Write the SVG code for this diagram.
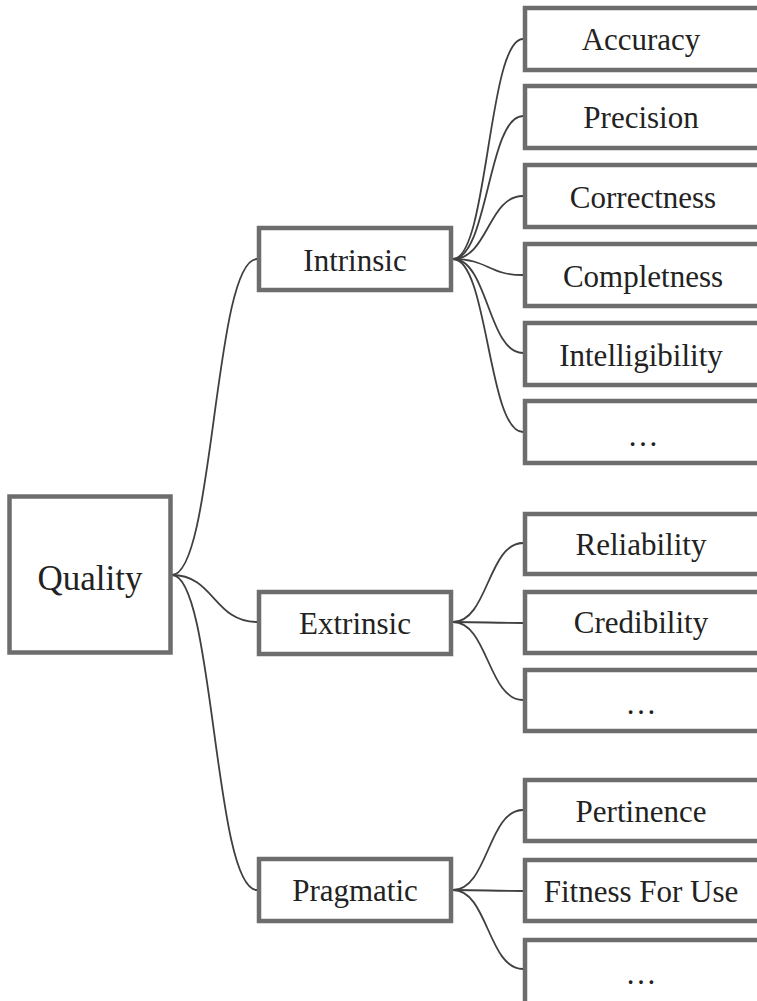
<svg xmlns="http://www.w3.org/2000/svg" width="757" height="1001" viewBox="0 0 757 1001">
<style>
.box{fill:#fff;stroke:#6d6d6d;stroke-width:4.5;}
.t{font-family:"Liberation Serif","Times New Roman",serif;font-size:31px;fill:#222;text-anchor:middle;}
.big{font-size:35px;}
.c{fill:none;stroke:#404040;stroke-width:1.8;}
</style>
<rect width="757" height="1001" fill="#fff"/>
<g id="connectors">
<path class="c" d="M172,575 C214,575 214,259 257,259"/>
<path class="c" d="M172,575 C214,575 214,622 257,622"/>
<path class="c" d="M172,575 C214,575 214,890 257,890"/>
<path class="c" d="M453,259 C488,259 488,39 523,39"/>
<path class="c" d="M453,259 C488,259 488,116 523,116"/>
<path class="c" d="M453,259 C488,259 488,196 523,196"/>
<path class="c" d="M453,259 C488,259 488,275 523,275"/>
<path class="c" d="M453,259 C488,259 488,353 523,353"/>
<path class="c" d="M453,259 C488,259 488,432 523,432"/>
<path class="c" d="M453,622 C488,622 488,543 523,543"/>
<path class="c" d="M453,622 C488,622 488,623 523,623"/>
<path class="c" d="M453,622 C488,622 488,700 523,700"/>
<path class="c" d="M453,890 C488,890 488,810 523,810"/>
<path class="c" d="M453,890 C488,890 488,891 523,891"/>
<path class="c" d="M453,890 C488,890 488,969 523,969"/>
</g>
<g id="quality"><rect class="box" x="9.5" y="496.5" width="161" height="156"/><text class="t big" x="90" y="590">Quality</text></g>
<g id="intrinsic"><rect class="box" x="259" y="228" width="192" height="62"/><text class="t" x="355" y="271">Intrinsic</text></g>
<g id="extrinsic"><rect class="box" x="259" y="592" width="192" height="62"/><text class="t" x="355" y="634">Extrinsic</text></g>
<g id="pragmatic"><rect class="box" x="259" y="859" width="192" height="62"/><text class="t" x="355" y="901">Pragmatic</text></g>
<g id="accuracy"><rect class="box" x="525" y="8" width="250" height="62"/><text class="t" x="641" y="50">Accuracy</text></g>
<g id="precision"><rect class="box" x="525" y="86" width="250" height="62"/><text class="t" x="641" y="128">Precision</text></g>
<g id="correctness"><rect class="box" x="525" y="165" width="250" height="62"/><text class="t" x="643" y="208">Correctness</text></g>
<g id="completness"><rect class="box" x="525" y="244" width="250" height="62"/><text class="t" x="643" y="287">Completness</text></g>
<g id="intelligibility"><rect class="box" x="525" y="323" width="250" height="62"/><text class="t" x="641" y="366">Intelligibility</text></g>
<g id="more1"><rect class="box" x="525" y="401" width="250" height="62"/><text class="t" x="643" y="446">…</text></g>
<g id="reliability"><rect class="box" x="525" y="514" width="250" height="60"/><text class="t" x="641" y="555">Reliability</text></g>
<g id="credibility"><rect class="box" x="525" y="592" width="250" height="61"/><text class="t" x="641" y="633">Credibility</text></g>
<g id="more2"><rect class="box" x="525" y="670" width="250" height="61"/><text class="t" x="641" y="714">…</text></g>
<g id="pertinence"><rect class="box" x="525" y="780" width="250" height="61"/><text class="t" x="641" y="822">Pertinence</text></g>
<g id="fitness"><rect class="box" x="525" y="860" width="250" height="61"/><text class="t" x="641" y="902">Fitness For Use</text></g>
<g id="more3"><rect class="box" x="525" y="940" width="250" height="70"/><text class="t" x="641" y="984">…</text></g>
</svg>
